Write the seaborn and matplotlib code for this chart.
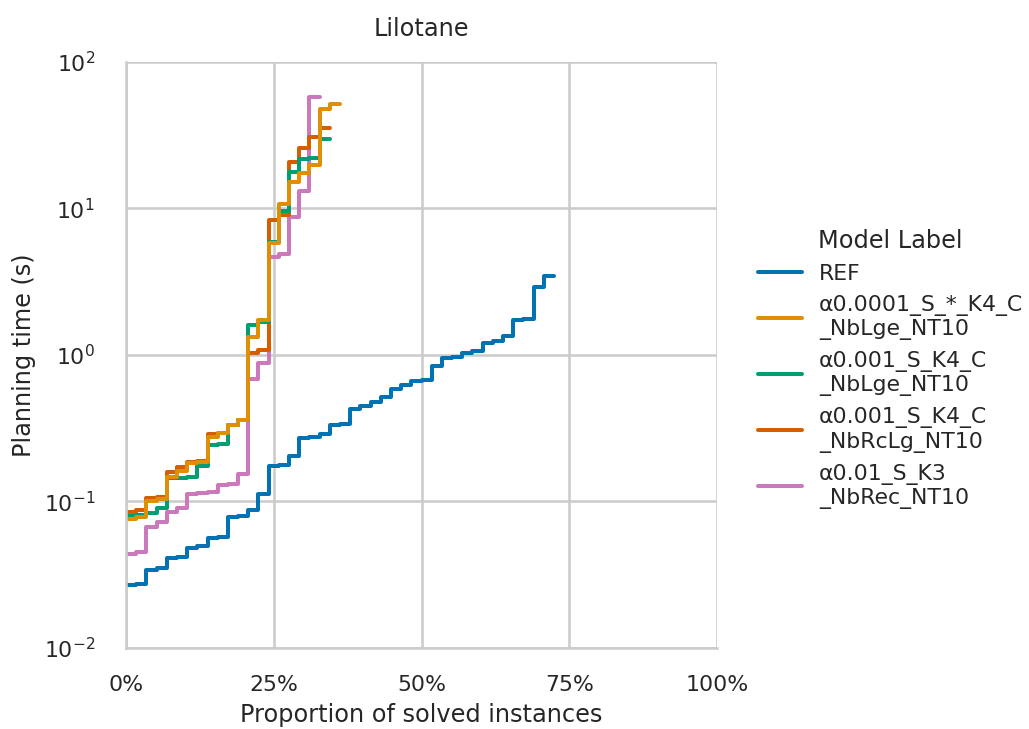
import numpy as np
import pandas as pd
import matplotlib
matplotlib.use("Agg")
import matplotlib.pyplot as plt
import seaborn as sns
from matplotlib.ticker import PercentFormatter, MultipleLocator

# ---------------- data ----------------
domain = "Lilotane"
n_instances = 58  # total number of instances (unsolved ones are not shown)

model_labels = [
    "REF",
    "α0.0001_S_*_K4_C\n_NbLge_NT10",
    "α0.001_S_K4_C\n_NbLge_NT10",
    "α0.001_S_K4_C\n_NbRcLg_NT10",
    "α0.01_S_K3\n_NbRec_NT10",
]

# planning times (s) of solved instances, per model
times_ref = [0.027, 0.0275, 0.034, 0.035, 0.041, 0.042, 0.048, 0.050, 0.056, 0.057,
             0.078, 0.080, 0.088, 0.112, 0.175, 0.178, 0.205, 0.27, 0.275, 0.287,
             0.335, 0.34, 0.425, 0.45, 0.48, 0.515, 0.59, 0.62, 0.665, 0.67,
             0.84, 0.95, 0.97, 1.04, 1.06, 1.2, 1.24, 1.35, 1.72, 1.75,
             2.9, 3.45]
times_a00001_lge = [0.076, 0.078, 0.100, 0.104, 0.148, 0.162, 0.182, 0.187, 0.277, 0.292,
                    0.333, 0.36, 1.33, 1.73, 5.8, 10.8, 15.1, 17.4, 19.8, 48.0,
                    51.7]
times_a0001_lge = [0.079, 0.081, 0.084, 0.09, 0.144, 0.145, 0.148, 0.175, 0.243, 0.245,
                   0.333, 0.36, 1.6, 1.68, 5.9, 9.6, 17.7, 21.8, 22.0, 29.8]
times_a0001_rclg = [0.085, 0.088, 0.106, 0.108, 0.16, 0.172, 0.187, 0.19, 0.288, 0.292,
                    0.335, 0.36, 1.03, 1.09, 8.4, 9.1, 20.8, 25.8, 30.9, 35.6]
times_a001_rec = [0.044, 0.045, 0.067, 0.073, 0.085, 0.09, 0.112, 0.114, 0.117, 0.13,
                  0.132, 0.154, 0.69, 0.88, 4.7, 4.9, 8.8, 13.2, 58.0]

series = [times_ref, times_a00001_lge, times_a0001_lge, times_a0001_rclg, times_a001_rec]

rows = []
for label, vals in zip(model_labels, series):
    for v in vals:
        rows.append({"Domain": domain, "Model Label": label, "Planning time (s)": v})
df = pd.DataFrame(rows)

# ---------------- style ----------------
sns.set_theme(style="whitegrid", context="notebook", palette="colorblind",
              rc={"grid.linewidth": 1.3, "axes.linewidth": 1.3,
                  "xtick.major.pad": 7.5, "ytick.major.pad": 9.5})
plt.rcParams["font.family"] = ["DejaVu Sans"]
DPI = 144
plt.rcParams["figure.dpi"] = DPI

g = sns.displot(
    data=df, y="Planning time (s)", hue="Model Label", hue_order=model_labels,
    col="Domain", kind="ecdf", stat="count", log_scale=(False, True),
    height=4.5, aspect=1.0, linewidth=2.0,
)
g.set_axis_labels("Proportion of solved instances", "Planning time (s)")

ax = g.axes.flat[0]
ax.set_title(domain, pad=13)
ax.set_xlim(0, n_instances)
ax.xaxis.set_major_locator(MultipleLocator(n_instances / 4))
ax.xaxis.set_major_formatter(PercentFormatter(xmax=n_instances, decimals=0))
ax.set_ylim(1e-2, 1e2)

fig = g.figure
fig.set_size_inches(1029 / DPI, 729 / DPI)
fig.subplots_adjust(left=126 / 1029, right=717 / 1029, bottom=1 - 648 / 729, top=1 - 62 / 729)

sns.move_legend(g, "center left", bbox_to_anchor=(0.717, 0.494), frameon=False)

fig.savefig("out.png", dpi=DPI)
